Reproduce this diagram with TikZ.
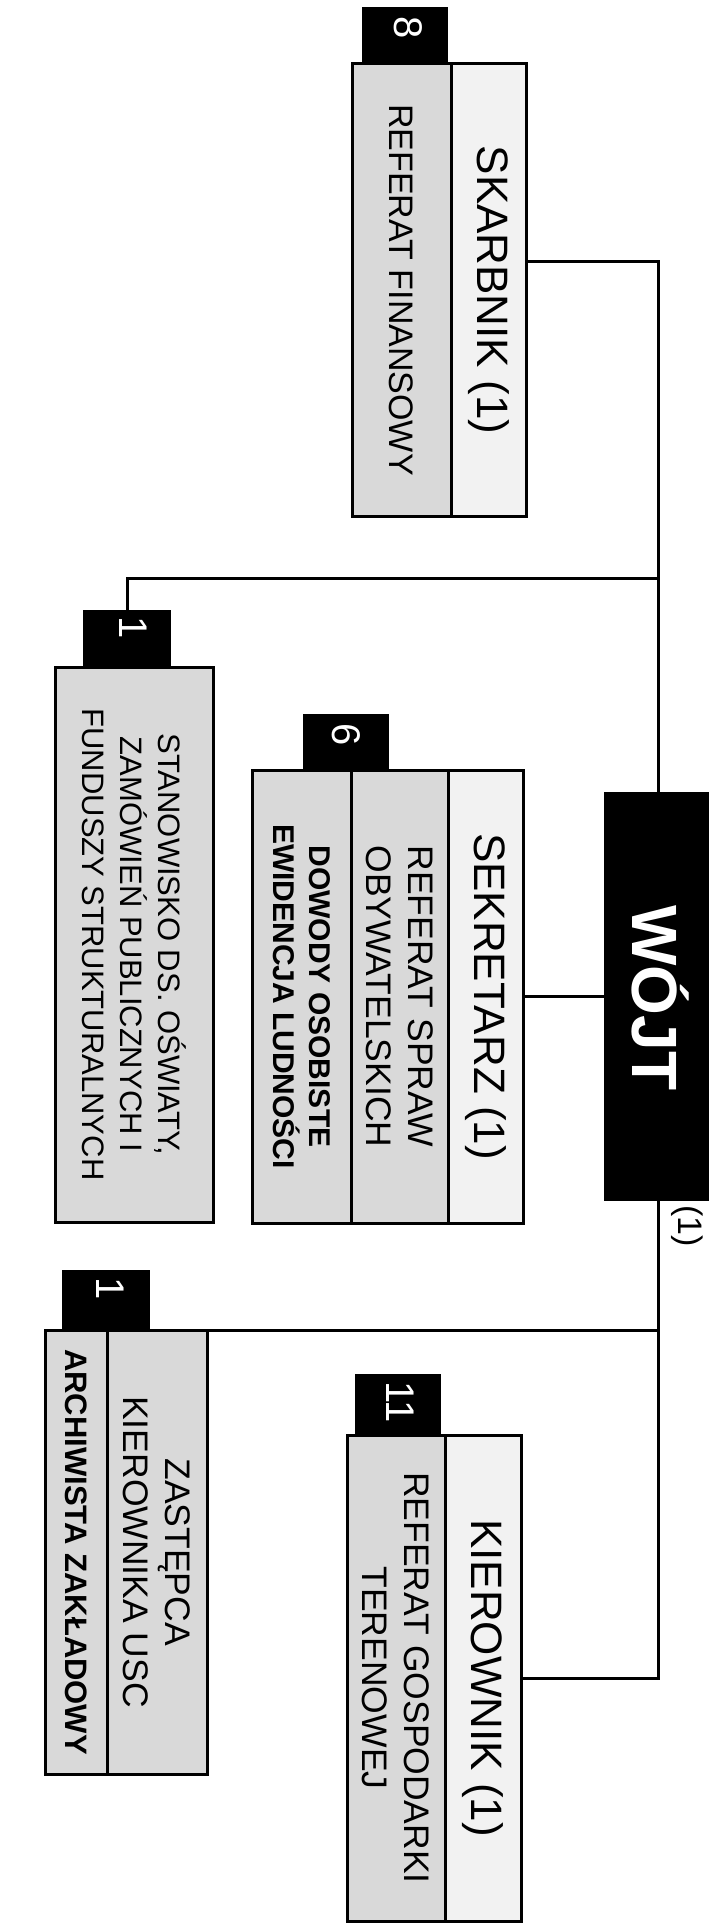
\documentclass[tikz,border=0pt]{standalone}
\usepackage{fontspec}
\setmainfont{Liberation Sans}
\begin{document}
\begin{tikzpicture}[x=1pt,y=-1pt,
  box/.style={draw=black, line width=3pt, rectangle, inner sep=0pt, outer sep=0pt},
  hdrbox/.style={box, fill=black!5},
  subbox/.style={box, fill=black!15},
  tabbox/.style={rectangle, fill=black, inner sep=0pt, outer sep=0pt},
  conn/.style={draw=black, line width=3pt},
  rt/.style={rotate=-90, inner sep=0pt, align=center, text=black},
  hdrtxt/.style={rt, font=\fontsize{44}{50}\selectfont},
  subtxt/.style={rt, font=\fontsize{35.5}{42}\selectfont},
  boldtxt/.style={rt, font=\fontsize{30}{36}\selectfont\bfseries},
  tabtxt/.style={rt, text=white, font=\fontsize{40}{44}\selectfont},
]
\useasboundingbox (0,0) rectangle (709,1924);
\clip (0,0) rectangle (709,1924);
\fill[white] (0,0) rectangle (709,1924);

% tabs
\node[tabbox, minimum width=86pt, minimum height=57pt] (tab8) at (405,35.5) {};
\node[tabbox, minimum width=88pt, minimum height=57pt] (tab1a) at (127,638.5) {};
\node[tabbox, minimum width=86pt, minimum height=56pt] (tab6) at (346,742) {};
\node[tabbox, minimum width=88pt, minimum height=60pt] (tab1b) at (106,1300) {};
\node[tabbox, minimum width=86pt, minimum height=61pt] (tab11) at (398,1404.5) {};

\node[tabtxt] (t8) at (408,28) {8};
\node[tabtxt] (t1a) at (133,628) {1};
\node[tabtxt] (t6) at (346,735) {6};
\node[tabtxt] (t1b) at (110,1289) {1};
\node[tabtxt] (t11) at (400,1402) {11};

% SKARBNIK
\node[subbox, minimum width=99pt, minimum height=452pt] (sks) at (401.5,290) {};
\node[hdrbox, minimum width=75pt, minimum height=452pt] (skh) at (488.5,290) {};
\node[hdrtxt] (skht) at (skh.center) {SKARBNIK (1)};
\node[subtxt, font=\fontsize{34}{42}\selectfont] (skst) at (sks.center) {REFERAT FINANSOWY};

% STANOWISKO
\node[subbox, minimum width=158pt, minimum height=555pt] (st) at (134,944.5) {};
\node[rt, font=\fontsize{31}{38}\selectfont] (stt) at (st.center) {STANOWISKO DS. OŚWIATY,\\ZAMÓWIEŃ PUBLICZNYCH I\\FUNDUSZY STRUKTURALNYCH};

% SEKRETARZ
\node[subbox, minimum width=99pt, minimum height=453pt] (ses2) at (301.5,996.5) {};
\node[subbox, minimum width=97pt, minimum height=453pt] (ses1) at (399.5,996.5) {};
\node[hdrbox, minimum width=75pt, minimum height=453pt] (seh) at (485.5,996.5) {};
\node[hdrtxt] (seht) at (seh.center) {SEKRETARZ (1)};
\node[subtxt] (ses1t) at (ses1.center) {REFERAT SPRAW\\OBYWATELSKICH};
\node[boldtxt] (ses2t) at (ses2.center) {DOWODY OSOBISTE\\EWIDENCJA LUDNOŚCI};

% ZASTEPCA
\node[subbox, minimum width=62pt, minimum height=444pt] (zaa) at (76,1552) {};
\node[subbox, minimum width=100pt, minimum height=444pt] (zas) at (157,1552) {};
\node[subtxt] (zast) at (zas.center) {ZASTĘPCA\\KIEROWNIKA USC};
\node[boldtxt, font=\fontsize{31}{36}\selectfont\bfseries] (zaat) at (zaa.center) {ARCHIWISTA ZAKŁADOWY};

% KIEROWNIK
\node[subbox, minimum width=98pt, minimum height=486pt] (kis) at (396,1678) {};
\node[hdrbox, minimum width=76pt, minimum height=486pt] (kih) at (483,1678) {};
\node[hdrtxt] (kiht) at (kih.center) {KIEROWNIK (1)};
\node[subtxt] (kist) at (kis.center) {REFERAT GOSPODARKI\\TERENOWEJ};

% WOJT
\node[tabbox, minimum width=108pt, minimum height=409pt] (wojt) at (658,996.5) {};
\node[rt, text=white, font=\fontsize{64}{70}\selectfont\bfseries] (wojtt) at (661,998) {WÓJT};
\node[rt, font=\fontsize{34}{40}\selectfont] (wojtn) at (687,1226) {(1)};

% connectors
\coordinate (skin) at (526,261);
\coordinate (bus1) at (658,578);
\coordinate (bus2) at (658,1330);
\draw[conn] (wojt.north) |- (skin);
\draw[conn] (bus1) -| (tab1a.north);
\draw[conn] (wojt.west) -- (seh.east);
\draw[conn] (wojt.south) |- (kih.east);
\draw[conn] (bus2) -- (tab1b.south east);
\end{tikzpicture}
\end{document}
